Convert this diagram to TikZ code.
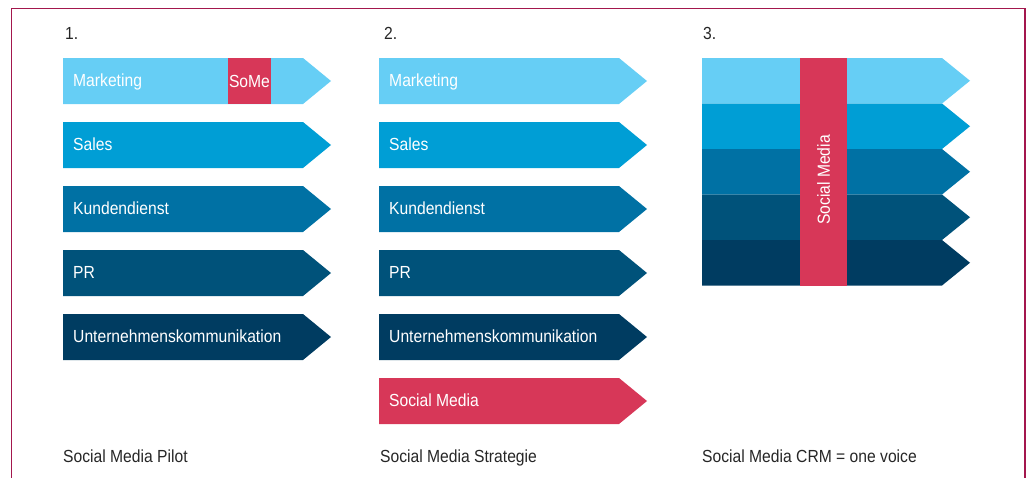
\documentclass[tikz,border=0pt]{standalone}
\usepackage{fontspec}
\setmainfont[FakeStretch=0.895]{Liberation Sans}
\usetikzlibrary{positioning}
\definecolor{blau1}{HTML}{66CEF5}
\definecolor{blau2}{HTML}{009ED5}
\definecolor{blau3}{HTML}{0071A4}
\definecolor{blau4}{HTML}{00527A}
\definecolor{blau5}{HTML}{003C61}
\definecolor{somered}{HTML}{D73758}
\definecolor{rahmen}{HTML}{A3174D}
\tikzset{
  txt/.style={inner sep=0pt, font=\fontsize{17.5}{20}\selectfont},
  lbl/.style={txt, text=white, anchor=base west},
  titel/.style={txt, text=black!85, anchor=base west}
}
% pfeil: x, y (top), farbe, hoehe
\newcommand\pfeil[4]{%
  \fill[#3] (#1,#2) -- ++(240,0) -- ++(28,#4/2) -- ++(-28,#4/2) -- ++(-240,0) -- cycle;}

\begin{document}
\begin{tikzpicture}[x=1pt,y=-1pt]
  \useasboundingbox (0,0) rectangle (1032,477);
  \draw[rahmen, line width=1.5pt] (11.5,480) -- (11.5,8.5) -- (1025,8.5) -- (1025,480);

  % 1. Pilot
  \node[titel] (n1) at (65,39) {1.};
  \foreach \t/\c [count=\i from 0] in {Marketing/blau1, Sales/blau2, Kundendienst/blau3, PR/blau4, Unternehmenskommunikation/blau5}{
    \pfeil{63}{58+64*\i}{\c}{46}
    \node[lbl] (a\i) at (73,86.5+64*\i) {\t};
  }
  \fill[somered] (228,58) rectangle (271,104);
  \node[txt, text=white] (some) at (249.5,81) {SoMe};
  \node[titel] (c1) at (63,462.5) {Social Media Pilot};

  % 2. Strategie
  \node[titel] (n2) at (384,39) {2.};
  \foreach \t/\c [count=\i from 0] in {Marketing/blau1, Sales/blau2, Kundendienst/blau3, PR/blau4, Unternehmenskommunikation/blau5, Social Media/somered}{
    \pfeil{379}{58+64*\i}{\c}{46}
    \node[lbl] (b\i) at (389,86.5+64*\i) {\t};
  }
  \node[titel] (c2) at (380,462.5) {Social Media Strategie};

  % 3. CRM
  \node[titel] (n3) at (703,39) {3.};
  \foreach \c [count=\i from 0] in {blau1, blau2, blau3, blau4, blau5}{
    \pfeil{702}{58+45.5*\i}{\c}{45.5}
  }
  \fill[somered] (800,58) rectangle (847,285.5);
  \node[txt, text=white, rotate=90] (sm) at (823.5,180) {Social Media};
  \node[titel] (c3) at (702,462.5) {Social Media CRM = one voice};
\end{tikzpicture}
\end{document}
